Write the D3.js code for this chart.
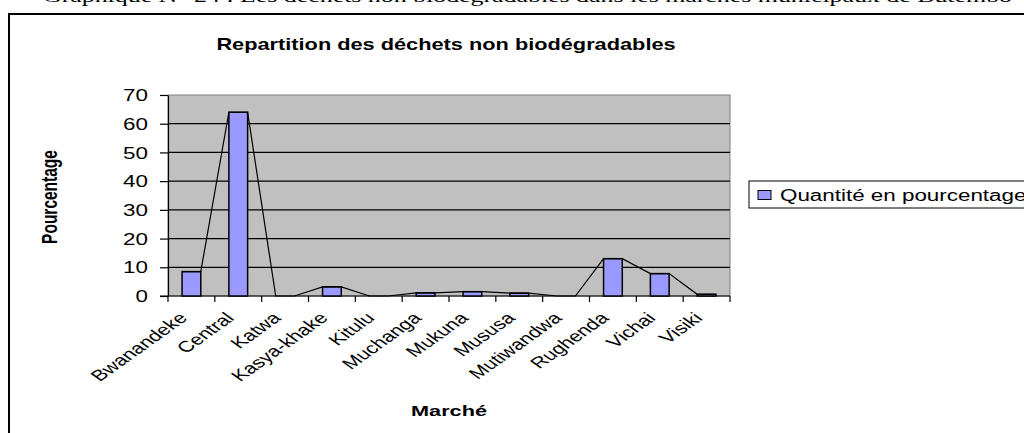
<!DOCTYPE html>
<html>
<head>
<meta charset="utf-8">
<script src="https://cdn.jsdelivr.net/npm/d3@7"></script>
<style>
  html, body { margin: 0; padding: 0; background: #fff; }
  svg { display: block; }
</style>
</head>
<body>
<div id="chart"></div>
<script>
// Data
const markets = ['Bwanandeke', 'Central', 'Katwa', 'Kasya-khake', 'Kitulu', 'Muchanga',
                 'Mukuna', 'Mususa', 'Mutiwandwa', 'Rughenda', 'Vichai', 'Visiki'];
const percentages = [8.5, 64.0, 0, 3.2, 0, 1.1, 1.5, 1.0, 0, 13.0, 7.8, 0.6];
const yTicks = [0, 10, 20, 30, 40, 50, 60, 70];
const seriesName = 'Quantité en pourcentage';

const W = 1024, H = 433;
const K = 1.4; // the source picture is stretched horizontally, text follows it
const sans = 'Arial, "Liberation Sans", sans-serif';

const svg = d3.select('#chart').append('svg')
    .attr('width', W).attr('height', H);

// Document caption (cut off at the top of the picture)
svg.append('text')
    .attr('x', 43).attr('y', 1.5)
    .attr('textLength', 969).attr('lengthAdjust', 'spacingAndGlyphs')
    .style('font-family', '"Times New Roman", "Liberation Serif", serif')
    .style('font-size', '17px')
    .text('Graphique N° 24 : Les déchets non biodégradables dans les marchés municipaux de Butembo');

// Chart area frame
svg.append('rect')
    .attr('x', 9).attr('y', 14).attr('width', 1040).attr('height', 440)
    .attr('fill', '#fff').attr('stroke', '#000').attr('stroke-width', 2);

const plot = { left: 168, right: 730, top: 95, bottom: 296 };

const x = d3.scaleBand().domain(markets)
    .range([plot.left, plot.right])
    .paddingInner(0.6).paddingOuter(0.3);
const xCat = d3.scaleBand().domain(markets).range([plot.left, plot.right]);
const y = d3.scaleLinear().domain([0, 70]).range([plot.bottom, plot.top]);

// Plot background
svg.append('rect')
    .attr('x', plot.left).attr('y', plot.top)
    .attr('width', plot.right - plot.left).attr('height', plot.bottom - plot.top)
    .attr('fill', '#c0c0c0').attr('stroke', '#808080').attr('stroke-width', 1);

// Gridlines
svg.append('g').selectAll('line')
    .data(yTicks.filter(t => t > 0 && t < 70))
    .enter().append('line')
    .attr('x1', plot.left).attr('x2', plot.right)
    .attr('y1', d => y(d)).attr('y2', d => y(d))
    .attr('stroke', '#000').attr('stroke-width', 1.2);

// Y axis
const yAxis = svg.append('g')
    .attr('transform', `translate(${plot.left},0)`)
    .call(d3.axisLeft(y).tickValues(yTicks).tickSize(8).tickSizeOuter(0));
yAxis.select('.domain').attr('stroke', '#000').attr('stroke-width', 1.2);
yAxis.selectAll('.tick line').attr('stroke', '#000').attr('stroke-width', 1.2);
yAxis.selectAll('.tick text')
    .attr('x', 0).attr('dy', '0.35em')
    .attr('transform', `translate(-20,0) scale(${K},1)`)
    .style('font-family', sans).style('font-size', '16px').style('fill', '#000');

// X axis line and category boundary ticks
svg.append('line')
    .attr('x1', plot.left - 8).attr('x2', plot.right)
    .attr('y1', plot.bottom).attr('y2', plot.bottom)
    .attr('stroke', '#000').attr('stroke-width', 1.2);
const bounds = markets.map(m => xCat(m)).concat([plot.right]);
svg.append('g').selectAll('line')
    .data(bounds)
    .enter().append('line')
    .attr('x1', d => d).attr('x2', d => d)
    .attr('y1', plot.bottom).attr('y2', plot.bottom + 6)
    .attr('stroke', '#000').attr('stroke-width', 1.2);

// Bars
svg.append('g').selectAll('rect')
    .data(markets)
    .enter().append('rect')
    .attr('x', (d) => x(d))
    .attr('y', (d, i) => y(percentages[i]))
    .attr('width', x.bandwidth())
    .attr('height', (d, i) => plot.bottom - y(percentages[i]))
    .attr('fill', '#9999ff').attr('stroke', '#000').attr('stroke-width', 1.5);

// Outline line through bar tops
const pts = [];
markets.forEach((m, i) => {
    pts.push([x(m), y(percentages[i])]);
    pts.push([x(m) + x.bandwidth(), y(percentages[i])]);
});
svg.append('path')
    .attr('d', d3.line()(pts))
    .attr('fill', 'none').attr('stroke', '#000').attr('stroke-width', 1.2);

// Category labels
svg.append('g').selectAll('text')
    .data(markets)
    .enter().append('text')
    .attr('transform', d => {
        const cx = xCat(d) + xCat.bandwidth() / 2;
        return `translate(${cx - 3},319) scale(${K},1) rotate(-45)`;
    })
    .attr('text-anchor', 'end')
    .style('font-family', sans).style('font-size', '15.5px')
    .text(d => d);

// Title
svg.append('text')
    .attr('transform', 'translate(446,50) scale(1.28,1)')
    .attr('text-anchor', 'middle')
    .style('font-family', sans).style('font-size', '17px').style('font-weight', 'bold')
    .text('Repartition des déchets non biodégradables');

// Axis titles
svg.append('text')
    .attr('transform', `translate(57,197) scale(${K},1) rotate(-90)`)
    .attr('text-anchor', 'middle')
    .style('font-family', sans).style('font-size', '15.5px').style('font-weight', 'bold')
    .text('Pourcentage');

svg.append('text')
    .attr('transform', `translate(449,416) scale(${K},1)`)
    .attr('text-anchor', 'middle')
    .style('font-family', sans).style('font-size', '15.5px').style('font-weight', 'bold')
    .text('Marché');

// Legend
const legend = svg.append('g');
legend.append('rect')
    .attr('x', 749).attr('y', 181).attr('width', 300).attr('height', 27)
    .attr('fill', '#fff').attr('stroke', '#000').attr('stroke-width', 1);
legend.append('rect')
    .attr('x', 758).attr('y', 190.5).attr('width', 13).attr('height', 9)
    .attr('fill', '#9999ff').attr('stroke', '#000').attr('stroke-width', 1);
legend.append('text')
    .attr('transform', `translate(780,195) scale(${K},1)`)
    .attr('dy', '0.35em')
    .style('font-family', sans).style('font-size', '16px')
    .text(seriesName);
</script>
</body>
</html>
